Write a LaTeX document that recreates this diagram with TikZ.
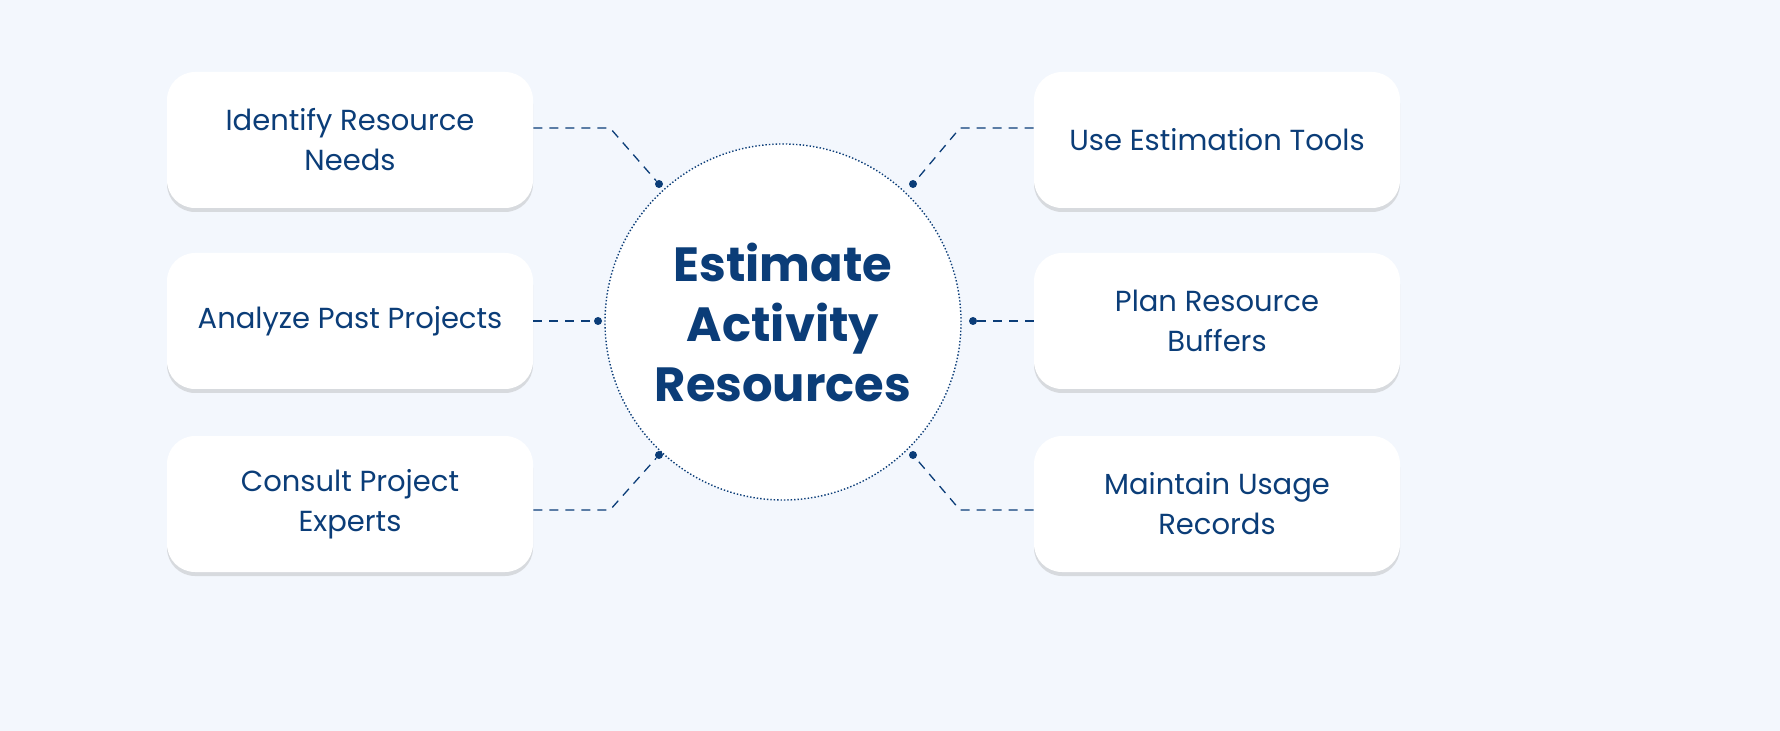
\documentclass[tikz,border=0pt]{standalone}
\usepackage{fontspec}
\setmainfont{Poppins}
\usetikzlibrary{shadows}
\definecolor{bgblue}{HTML}{F3F7FD}
\definecolor{navy}{HTML}{0B3D78}
\tikzset{
  itembox/.style={draw=none,fill=white,rounded corners=14pt,minimum width=183pt,minimum height=68pt,
    align=center,text=navy,font=\fontsize{14.5}{20}\selectfont,
    drop shadow={shadow xshift=0pt,shadow yshift=-2pt,fill=black!40,opacity=0.3}},
  link/.style={draw=navy,dashed,dash pattern=on 4.5pt off 3.5pt,line width=0.65pt},
  pin/.style={circle,fill=navy,inner sep=0pt,minimum size=4pt}
}
\begin{document}
\begin{tikzpicture}[x=0.5pt,y=0.5pt]
\fill[bgblue] (0,0) rectangle (1780,-731);
% centre
\node (hub) [circle,fill=white,draw=navy,densely dotted,line width=0.7pt,minimum size=178pt,
  align=center,text=navy,font=\fontsize{24}{30}\selectfont\bfseries] at (783,-322)
  {Estimate\\Activity\\Resources};
% boxes
\node (ident) [itembox] at (350,-140) {Identify Resource\\Needs};
\node (past) [itembox] at (350,-321) {Analyze Past Projects};
\node (consult) [itembox] at (350,-504) {Consult Project\\Experts};
\node (tools) [itembox] at (1217,-140) {Use Estimation Tools};
\node (buffer) [itembox] at (1217,-321) {Plan Resource\\Buffers};
\node (usage) [itembox] at (1217,-504) {Maintain Usage\\Records};
% pins
\node (p1) [pin] at (659,-184) {};
\node (p2) [pin] at (598,-321) {};
\node (p3) [pin] at (659,-455) {};
\node (p4) [pin] at (913,-184) {};
\node (p5) [pin] at (973,-321) {};
\node (p6) [pin] at (913,-455) {};
\coordinate (k1) at (610,-128);
\coordinate (k3) at (610,-510);
\coordinate (k4) at (960,-128);
\coordinate (k6) at (960,-510);
% links
\draw[link] (ident.east |- k1) -- (k1) -- (p1);
\draw[link] (past.east) -- (p2);
\draw[link] (consult.east |- k3) -- (k3) -- (p3);
\draw[link] (tools.west |- k4) -- (k4) -- (p4);
\draw[link] (buffer.west) -- (p5);
\draw[link] (usage.west |- k6) -- (k6) -- (p6);
\pgfresetboundingbox
\path[use as bounding box] (0,0) rectangle (1780,-731);
\end{tikzpicture}
\end{document}
